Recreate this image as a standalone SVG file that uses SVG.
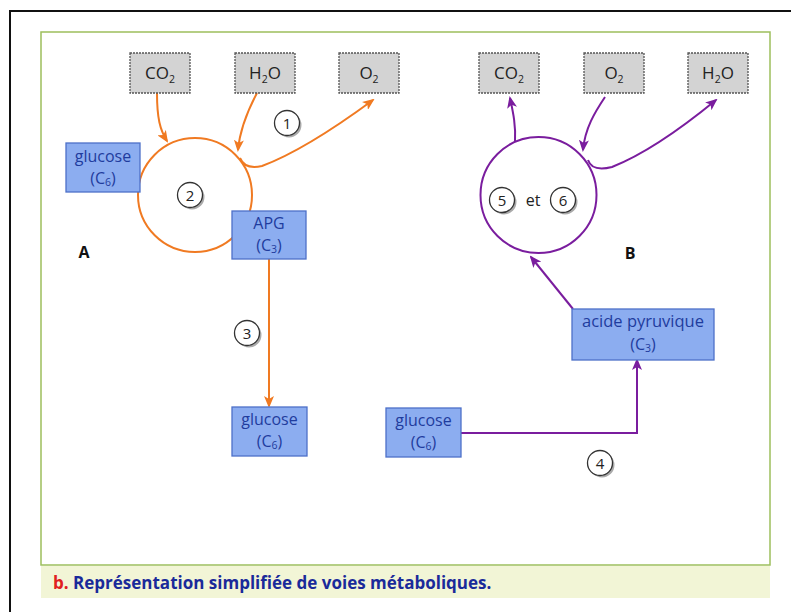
<svg xmlns="http://www.w3.org/2000/svg" width="791" height="612" viewBox="0 0 791 612">
<defs>
<marker id="ao" markerUnits="userSpaceOnUse" markerWidth="12" markerHeight="10" viewBox="0 0 12 10" refX="10" refY="5" orient="auto">
<path d="M0,0 L12,5 L0,10 L3,5 z" fill="#f07a22"/>
</marker>
<marker id="ap" markerUnits="userSpaceOnUse" markerWidth="12" markerHeight="10" viewBox="0 0 12 10" refX="10" refY="5" orient="auto">
<path d="M0,0 L12,5 L0,10 L3,5 z" fill="#7a1d9e"/>
</marker>
</defs>
<style>
text{font-family:"Open Sans","Noto Sans","Liberation Sans",sans-serif;}
.gray{fill:#d3d3d3;stroke:#555;stroke-width:1.3;stroke-dasharray:2 1;}
.gt{font-size:17px;fill:#222;text-anchor:middle;font-weight:500;}
.blue{fill:#8cadf0;stroke:#4d70c8;stroke-width:1.3;}
.bt{font-size:16px;fill:#1f3c9e;text-anchor:middle;font-weight:500;}
.sub{font-size:10.5px;}
.or{fill:none;stroke:#f07a22;stroke-width:2;}
.pu{fill:none;stroke:#7a1d9e;stroke-width:2;}
.num{fill:#fff;stroke:#333;stroke-width:1.3;}
.sh{fill:#aaa;}
.nt{font-size:15px;fill:#222;text-anchor:middle;}
.lab{font-size:16px;font-weight:bold;fill:#111;text-anchor:middle;}
</style>
<rect x="0" y="0" width="791" height="612" fill="#fff"/>
<rect x="10" y="11" width="800" height="620" fill="none" stroke="#111" stroke-width="2"/>
<rect x="41" y="566" width="729" height="32" fill="#f2f5d6"/>
<rect x="41" y="32" width="729" height="533" fill="none" stroke="#9dbf5c" stroke-width="1.5"/>
<text x="53" y="589" style="font-size:17px;font-weight:bold;fill:#1a2a9a;"><tspan fill="#e02020">b.</tspan> Représentation simplifiée de voies métaboliques.</text>

<g id="connectors">
<circle cx="195" cy="195" r="57" class="or"/>
<path d="M157,93 C157,118 160,130 167,141" class="or" marker-end="url(#ao)"/>
<path d="M257,93 C248,110 240,128 238,150" class="or" marker-end="url(#ao)"/>
<path d="M240,158 Q245,170 262,166 Q305,150 373,100" class="or" marker-end="url(#ao)"/>
<path d="M269,259 V406" class="or" marker-end="url(#ao)"/>
<circle cx="538.5" cy="195" r="58" class="pu"/>
<path d="M515,142 C516,125 513,112 510,98" class="pu" marker-end="url(#ap)"/>
<path d="M605,97 C595,112 585,128 583,150" class="pu" marker-end="url(#ap)"/>
<path d="M588,160 Q592,172 612,167 Q655,150 716,100" class="pu" marker-end="url(#ap)"/>
<path d="M573,309 L531,257" class="pu" marker-end="url(#ap)"/>
<path d="M461,433 H637 V360" class="pu" marker-end="url(#ap)"/>
</g>

<g id="co2-a"><rect x="130" y="53" width="60" height="40" class="gray"/><text x="160" y="79" class="gt">CO<tspan class="sub" dy="4">2</tspan></text></g>
<g id="h2o-a"><rect x="235" y="53" width="60" height="40" class="gray"/><text x="265" y="79" class="gt">H<tspan class="sub" dy="4">2</tspan><tspan dy="-4">O</tspan></text></g>
<g id="o2-a"><rect x="339" y="53" width="60" height="40" class="gray"/><text x="369" y="79" class="gt">O<tspan class="sub" dy="4">2</tspan></text></g>
<g id="co2-b"><rect x="479" y="53" width="60" height="40" class="gray"/><text x="509" y="79" class="gt">CO<tspan class="sub" dy="4">2</tspan></text></g>
<g id="o2-b"><rect x="584" y="53" width="60" height="40" class="gray"/><text x="614" y="79" class="gt">O<tspan class="sub" dy="4">2</tspan></text></g>
<g id="h2o-b"><rect x="688" y="53" width="60" height="40" class="gray"/><text x="718" y="79" class="gt">H<tspan class="sub" dy="4">2</tspan><tspan dy="-4">O</tspan></text></g>

<g id="glucose-a"><rect x="66" y="143" width="74" height="49" class="blue"/><text x="103" y="162" class="bt">glucose</text><text x="103" y="184" class="bt">(C<tspan class="sub" dy="2">6</tspan><tspan dy="-2">)</tspan></text></g>
<g id="apg"><rect x="232" y="211" width="74" height="48" class="blue"/><text x="269" y="229" class="bt">APG</text><text x="269" y="251" class="bt">(C<tspan class="sub" dy="2">3</tspan><tspan dy="-2">)</tspan></text></g>
<g id="glucose-a2"><rect x="232" y="407" width="75" height="49" class="blue"/><text x="269.5" y="425" class="bt">glucose</text><text x="269.5" y="447" class="bt">(C<tspan class="sub" dy="2">6</tspan><tspan dy="-2">)</tspan></text></g>
<g id="glucose-b"><rect x="386" y="408" width="75" height="49" class="blue"/><text x="423.5" y="426" class="bt">glucose</text><text x="423.5" y="448" class="bt">(C<tspan class="sub" dy="2">6</tspan><tspan dy="-2">)</tspan></text></g>
<g id="pyruvique"><rect x="572" y="309" width="142" height="51" class="blue"/><text x="643" y="327" class="bt" style="font-size:16.5px">acide pyruvique</text><text x="643" y="350" class="bt">(C<tspan class="sub" dy="2">3</tspan><tspan dy="-2">)</tspan></text></g>

<g id="n1"><circle cx="289" cy="125" r="12.5" class="sh"/><circle cx="287" cy="123" r="12.5" class="num"/><text x="287" y="128.5" class="nt">1</text></g>
<g id="n2"><circle cx="192" cy="197" r="12.5" class="sh"/><circle cx="190" cy="195" r="12.5" class="num"/><text x="190" y="200.5" class="nt">2</text></g>
<g id="n3"><circle cx="249" cy="335" r="12.5" class="sh"/><circle cx="247" cy="333" r="12.5" class="num"/><text x="247" y="338.5" class="nt">3</text></g>
<g id="n4"><circle cx="602" cy="465" r="12.5" class="sh"/><circle cx="600" cy="463" r="12.5" class="num"/><text x="600" y="468.5" class="nt">4</text></g>
<g id="n56">
<circle cx="504" cy="202" r="12.5" class="sh"/><circle cx="502" cy="200" r="12.5" class="num"/><text x="502" y="205.5" class="nt">5</text>
<text x="533" y="206" class="nt" style="font-size:16px">et</text>
<circle cx="565" cy="202" r="12.5" class="sh"/><circle cx="563" cy="200" r="12.5" class="num"/><text x="563" y="205.5" class="nt">6</text>
</g>
<g id="labA"><text x="84" y="258" class="lab">A</text></g>
<g id="labB"><text x="630" y="259" class="lab">B</text></g>
</svg>
